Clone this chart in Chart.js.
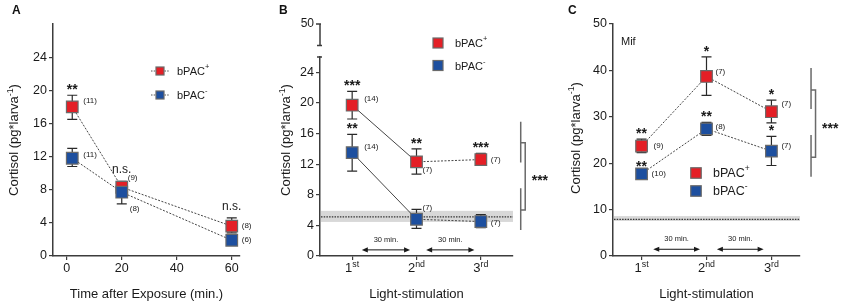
<!DOCTYPE html>
<html>
<head>
<meta charset="utf-8">
<title>Cortisol after bPAC light stimulation</title>
<script src="https://cdn.jsdelivr.net/npm/chart.js@4.4.1/dist/chart.umd.min.js"></script>
<style>
  body { margin: 0; background: #fff; }
  #wrap { position: relative; width: 843px; height: 306px; overflow: hidden; font-family: "Liberation Sans", Arial, sans-serif; }
  .panel { position: absolute; top: 0; height: 306px; }
  .tag { position: absolute; top: 3px; font-weight: bold; font-size: 12px; color: #111; }
</style>
</head>
<body>
<div id="wrap">
  <div class="panel" style="left:0;width:282px"><canvas id="chartA"></canvas></div>
  <div class="panel" style="left:278px;width:284px"><canvas id="chartB"></canvas></div>
  <div class="panel" style="left:562px;width:281px"><canvas id="chartC"></canvas></div>
  <div class="tag" style="left:12px">A</div>
  <div class="tag" style="left:279px">B</div>
  <div class="tag" style="left:568px">C</div>
</div>
<script>
// Panel A: cortisol after exposure
const timeA = [2, 20, 60];
const plusA = [18.0, 8.3, 3.6];
const plusLoA = [16.5, 7.7, 2.8];
const plusHiA = [19.4, 9.0, 4.6];
const minusA = [11.8, 7.7, 1.9];
const minusLoA = [10.8, 6.3, 1.5];
const minusHiA = [13.0, 8.8, 2.5];
const nPlusA = ['(11)', '(9)', '(8)'];
const nMinusA = ['(11)', '(8)', '(6)'];
const sigA = ['**', 'n.s.', 'n.s.'];
const xTicksA = [0, 20, 40, 60];
const yTicksA = [0, 4, 8, 12, 16, 20, 24];

// Panels B and C: repeated light stimulation
const stim = [1, 2, 3];
const stimNum = ['1', '2', '3'];
const stimSup = ['st', 'nd', 'rd'];

const plusB = [19.7, 12.3, 12.6];
const plusLoB = [17.9, 10.7, 11.9];
const plusHiB = [21.5, 14.0, 13.4];
const minusB = [13.5, 4.8, 4.5];
const minusLoB = [11.1, 3.6, 3.7];
const minusHiB = [15.9, 6.1, 5.4];
const nPlusB = ['(14)', '(7)', '(7)'];
const nMinusB = ['(14)', '(7)', '(7)'];
const sigPlusB = ['***', '**', '***'];
const sigMinusB = ['**', '', ''];
const yTicksB = [0, 4, 8, 12, 16, 20, 24];
const yBreakTickB = 50;
const bandB = [4.45, 5.9];
const controlB = 5.1;
const groupPlusB = [12.2, 17.55];
const groupMinusB = [3.4, 8.85];
const joinB = [6.0, 14.8];

const plusC = [23.7, 38.7, 31.1];
const plusLoC = [22.3, 34.6, 28.7];
const plusHiC = [25.2, 42.9, 33.6];
const minusC = [17.7, 27.4, 22.6];
const minusLoC = [17.3, 26.0, 19.5];
const minusHiC = [18.1, 28.8, 25.8];
const nPlusC = ['(9)', '(7)', '(7)'];
const nMinusC = ['(10)', '(8)', '(7)'];
const sigPlusC = ['**', '*', '*'];
const sigMinusC = ['**', '**', '*'];
const yTicksC = [0, 10, 20, 30, 40, 50];
const bandC = [7.55, 8.6];
const controlC = 7.9;
const groupPlusC = [31.7, 40.5];
const groupMinusC = [17.1, 26.1];
const joinC = [21.3, 35.8];

const legendText = ['bPAC', 'bPAC'];
const legendSup = ['+', '-'];
const intervalText = '30 min.';
const yTitle = [['Cortisol (pg*larva', 0], ['-1', 1], [')', 0]];

const RED = '#e41f26';
const BLUE = '#1d4f9f';
const INK = '#1a1a1a';
const AXIS = '#3c3c3c';
const SANS = '"Liberation Sans", Arial, sans-serif';

function font(px, weight) {
    return (weight ? weight + ' ' : '') + px + 'px ' + SANS;
}

// draws text with superscript parts, parts = [[text, isSup], ...]
function rich(ctx, parts, x, y, size, align) {
    const sup = size * 0.68;
    let w = 0;
    parts.forEach(p => { ctx.font = font(p[1] ? sup : size); w += ctx.measureText(p[0]).width; });
    let cx = align === 'center' ? x - w / 2 : (align === 'right' ? x - w : x);
    ctx.textAlign = 'left';
    parts.forEach(p => {
        ctx.font = font(p[1] ? sup : size);
        ctx.fillText(p[0], cx, p[1] ? y - size * 0.42 : y);
        cx += ctx.measureText(p[0]).width;
    });
}

const dotted = () => [2, 1.5];
const solidThenDotted = c => (c.p0DataIndex === 0 ? [] : [2, 1.5]);

function series(xs, ys, lo, hi, n, nOff, sig, color, dash) {
    return {
        data: xs.map((x, i) => ({ x: x, y: ys[i] })),
        errLo: lo, errHi: hi, nLabels: n, nOff: nOff, sig: sig,
        borderColor: '#454545', borderWidth: 1, tension: 0,
        backgroundColor: color, pointBackgroundColor: color,
        pointBorderColor: '#6a6a6a', pointBorderWidth: 1.2,
        pointStyle: 'rect', pointRadius: 8.2, pointHoverRadius: 8.2,
        segment: { borderDash: dash }
    };
}

const decor = {
    id: 'decor',
    beforeDatasetsDraw(chart, args, o) {
        const { ctx, chartArea: ca } = chart;
        const y = chart.scales.y;
        ctx.save();
        if (o.band) {
            const t = y.getPixelForValue(o.band[1]), b = y.getPixelForValue(o.band[0]);
            ctx.fillStyle = '#d8d8d8';
            ctx.fillRect(ca.left + 1, t, ca.right - ca.left - 1, b - t);
            const c = y.getPixelForValue(o.control);
            ctx.strokeStyle = '#333'; ctx.lineWidth = 1.2; ctx.setLineDash([1.5, 1.2]);
            ctx.beginPath(); ctx.moveTo(ca.left + 1, c); ctx.lineTo(ca.right, c); ctx.stroke();
            ctx.setLineDash([]);
        }
        // error bars (SEM)
        ctx.strokeStyle = '#2a2a2a'; ctx.lineWidth = 1.2;
        chart.data.datasets.forEach((ds, di) => {
            chart.getDatasetMeta(di).data.forEach((pt, i) => {
                const lo = y.getPixelForValue(ds.errLo[i]), hi = y.getPixelForValue(ds.errHi[i]);
                ctx.beginPath();
                ctx.moveTo(pt.x, lo); ctx.lineTo(pt.x, hi);
                ctx.moveTo(pt.x - 5, lo); ctx.lineTo(pt.x + 5, lo);
                ctx.moveTo(pt.x - 5, hi); ctx.lineTo(pt.x + 5, hi);
                ctx.stroke();
            });
        });
        ctx.restore();
    },
    afterDatasetsDraw(chart, args, o) {
        const { ctx, chartArea: ca } = chart;
        const x = chart.scales.x, y = chart.scales.y;
        ctx.save();
        ctx.fillStyle = INK;

        // n per group and significance marks
        chart.data.datasets.forEach((ds, di) => {
            chart.getDatasetMeta(di).data.forEach((pt, i) => {
                ctx.font = font(8); ctx.textAlign = 'left'; ctx.textBaseline = 'middle';
                ctx.fillText(ds.nLabels[i], pt.x + ds.nOff[i][0], pt.y + ds.nOff[i][1]);
                const s = ds.sig ? ds.sig[i] : '';
                if (s) {
                    const star = s[0] === '*';
                    ctx.font = star ? font(14, 'bold') : font(12); ctx.textAlign = 'center'; ctx.textBaseline = 'alphabetic';
                    ctx.fillText(s, pt.x, y.getPixelForValue(ds.errHi[i]) - (star ? 1 : 8));
                }
            });
        });
        ctx.textBaseline = 'alphabetic';

        // interval arrows
        if (o.arrows) {
            const ay = y.getPixelForValue(o.arrowY), ty = y.getPixelForValue(o.arrowTextY);
            ctx.strokeStyle = '#111'; ctx.lineWidth = 1;
            o.arrows.forEach(a => {
                const x0 = x.getPixelForValue(a[0]), x1 = x.getPixelForValue(a[1]);
                ctx.beginPath(); ctx.moveTo(x0 + 3, ay); ctx.lineTo(x1 - 3, ay); ctx.stroke();
                ctx.beginPath();
                ctx.moveTo(x0, ay); ctx.lineTo(x0 + 6, ay - 2.6); ctx.lineTo(x0 + 6, ay + 2.6); ctx.closePath();
                ctx.moveTo(x1, ay); ctx.lineTo(x1 - 6, ay - 2.6); ctx.lineTo(x1 - 6, ay + 2.6); ctx.closePath();
                ctx.fill();
                ctx.font = font(7.5); ctx.textAlign = 'center'; ctx.textBaseline = 'middle';
                ctx.fillText(intervalText, (x0 + x1) / 2, ty);
            });
            ctx.textBaseline = 'alphabetic';
        }

        // group comparison bracket
        if (o.bracket) {
            const b = o.bracket, gx = x.getPixelForValue(b.x);
            ctx.strokeStyle = '#6a6a6a'; ctx.lineWidth = 1.5;
            ctx.beginPath();
            [b.plus, b.minus].forEach(r => {
                ctx.moveTo(gx, y.getPixelForValue(r[0])); ctx.lineTo(gx, y.getPixelForValue(r[1]));
            });
            const j0 = y.getPixelForValue(b.join[0]), j1 = y.getPixelForValue(b.join[1]);
            ctx.moveTo(gx, j1); ctx.lineTo(gx + 4.5, j1); ctx.lineTo(gx + 4.5, j0); ctx.lineTo(gx, j0);
            ctx.stroke();
            ctx.font = font(14, 'bold'); ctx.textAlign = 'left';
            ctx.fillText('***', gx + 11, (j0 + j1) / 2 + 9);
        }

        // broken axis stub
        if (o.brk) {
            const k = o.brk;
            const top = y.getPixelForValue(k.tick - k.shift), bot = y.getPixelForValue(k.lo - k.shift);
            ctx.strokeStyle = AXIS; ctx.lineWidth = 1.5;
            ctx.beginPath();
            ctx.moveTo(ca.left, top); ctx.lineTo(ca.left, bot);
            ctx.moveTo(ca.left - 4, top); ctx.lineTo(ca.left + 1, top);
            ctx.moveTo(ca.left - 3, bot); ctx.lineTo(ca.left + 2, bot);
            ctx.moveTo(ca.left - 3, ca.top); ctx.lineTo(ca.left + 2, ca.top);
            ctx.stroke();
            ctx.font = font(12); ctx.textAlign = 'right'; ctx.textBaseline = 'middle';
            ctx.fillText(String(k.tick), ca.left - 6, top);
            ctx.textBaseline = 'alphabetic';
        }

        // ordinal tick labels with superscripts
        if (o.ordinal) {
            o.ordinal.forEach((v, i) => {
                rich(ctx, [[stimNum[i], 0], [stimSup[i], 1]], x.getPixelForValue(v), 272, 13, 'center');
            });
        }

        // legend
        const L = o.legend;
        L.colors.forEach((c, i) => {
            const cx = L.x, cy = L.y + i * L.dy, h = L.size / 2;
            if (L.line) {
                ctx.strokeStyle = '#555'; ctx.lineWidth = 1; ctx.setLineDash([1.5, 1.2]);
                ctx.beginPath(); ctx.moveTo(cx - 9, cy); ctx.lineTo(cx + 9, cy); ctx.stroke();
                ctx.setLineDash([]);
            }
            ctx.fillStyle = c; ctx.fillRect(cx - h, cy - h, L.size, L.size);
            ctx.strokeStyle = '#6a6a6a'; ctx.lineWidth = 1.2; ctx.strokeRect(cx - h, cy - h, L.size, L.size);
            ctx.fillStyle = INK; ctx.textBaseline = 'middle';
            rich(ctx, [[legendText[i], 0], [legendSup[i], 1]], L.textX, cy + 1, L.font, 'left');
            ctx.textBaseline = 'alphabetic';
        });

        if (o.note) {
            ctx.font = font(11); ctx.textAlign = 'left'; ctx.textBaseline = 'middle';
            ctx.fillText(o.note, ca.left + 8, ca.top + 18);
            ctx.textBaseline = 'alphabetic';
        }

        // axis titles
        ctx.save();
        ctx.translate(o.yTitleX, o.yTitleY);
        ctx.rotate(-Math.PI / 2);
        rich(ctx, yTitle, 0, 0, 13, 'center');
        ctx.restore();
        ctx.font = font(13); ctx.textAlign = 'center';
        ctx.fillText(o.xTitle, (ca.left + ca.right) / 2, 298);
        ctx.restore();
    }
};
Chart.register(decor);

function panel(id, o) {
    const grid = { display: true, drawOnChartArea: false, drawTicks: true, tickLength: 4, color: AXIS, lineWidth: 1.2 };
    const border = { display: true, color: AXIS, width: 1.5 };
    const tickFont = { family: SANS, size: 12.5 };
    const canvas = document.getElementById(id);
    const w = canvas.parentNode.clientWidth;
    return new Chart(canvas, {
        type: 'line',
        data: { datasets: o.datasets },
        options: {
            responsive: true,
            maintainAspectRatio: false,
            animation: false,
            events: [],
            layout: { padding: { top: o.area.top, right: w - o.area.right, left: 0, bottom: 0 } },
            plugins: { legend: { display: false }, tooltip: { enabled: false }, decor: o },
            scales: {
                x: {
                    type: 'linear', min: o.xMin, max: o.xMax,
                    afterBuildTicks: s => { s.ticks = o.xTicks.map(v => ({ value: v })); },
                    afterFit: s => { s.height = 306 - o.area.bottom; },
                    grid: grid, border: border,
                    ticks: { font: tickFont, color: INK, padding: 1, maxRotation: 0,
                        callback: v => (o.ordinal ? '' : String(v)) }
                },
                y: {
                    type: 'linear', min: 0, max: o.yMax,
                    afterBuildTicks: s => { s.ticks = o.yTicks.map(v => ({ value: v })); },
                    afterFit: s => { s.width = o.area.left; },
                    grid: grid, border: border,
                    ticks: { font: tickFont, color: INK, padding: 2 }
                }
            }
        }
    });
}

panel('chartA', {
    area: { left: 53, right: 240, top: 24, bottom: 256 },
    xMin: -5, xMax: 63, xTicks: xTicksA, yMax: 28, yTicks: yTicksA,
    datasets: [
        series(timeA, minusA, minusLoA, minusHiA, nMinusA, [[11, -3], [8, 17], [10, 0]], null, BLUE, dotted),
        series(timeA, plusA, plusLoA, plusHiA, nPlusA, [[11, -6], [6, -9], [10, 0]], sigA, RED, dotted)
    ],
    legend: { colors: [RED, BLUE], x: 160, y: 71, dy: 24, size: 8, line: true, textX: 177, font: 11 },
    yTitleX: 18, yTitleY: 140, xTitle: 'Time after Exposure (min.)'
});

panel('chartB', {
    area: { left: 42, right: 235, top: 57, bottom: 256 },
    xMin: 0.5, xMax: 3.5, xTicks: stim, ordinal: stim, yMax: 26, yTicks: yTicksB,
    brk: { tick: yBreakTickB, lo: 47.2, shift: 19.7 },
    band: bandB, control: controlB,
    arrows: [[1.15, 1.9], [2.15, 2.9]], arrowY: 0.8, arrowTextY: 2.1,
    bracket: { x: 3.62, plus: groupPlusB, minus: groupMinusB, join: joinB },
    datasets: [
        series(stim, minusB, minusLoB, minusHiB, nMinusB, [[12, -6], [6, -11], [10, 1]], sigMinusB, BLUE, solidThenDotted),
        series(stim, plusB, plusLoB, plusHiB, nPlusB, [[12, -6], [6, 8], [10, 0]], sigPlusB, RED, solidThenDotted)
    ],
    legend: { colors: [RED, BLUE], x: 160, y: 43, dy: 22.5, size: 10, line: false, textX: 177, font: 11 },
    yTitleX: 12, yTitleY: 140, xTitle: 'Light-stimulation'
});

panel('chartC', {
    area: { left: 51, right: 238, top: 24, bottom: 256 },
    xMin: 0.56, xMax: 3.44, xTicks: stim, ordinal: stim, yMax: 50, yTicks: yTicksC,
    band: bandC, control: controlC,
    arrows: [[1.18, 1.9], [2.16, 2.88]], arrowY: 1.45, arrowTextY: 3.6,
    bracket: { x: 3.61, plus: groupPlusC, minus: groupMinusC, join: joinC },
    note: 'Mif',
    datasets: [
        series(stim, minusC, minusLoC, minusHiC, nMinusC, [[10, 0], [9, -2], [10, -5]], sigMinusC, BLUE, dotted),
        series(stim, plusC, plusLoC, plusHiC, nPlusC, [[12, 0], [9, -5], [10, -8]], sigPlusC, RED, dotted)
    ],
    legend: { colors: [RED, BLUE], x: 134, y: 173, dy: 18, size: 10.5, line: false, textX: 151, font: 12.5 },
    yTitleX: 17.5, yTitleY: 138, xTitle: 'Light-stimulation'
});
</script>
</body>
</html>
